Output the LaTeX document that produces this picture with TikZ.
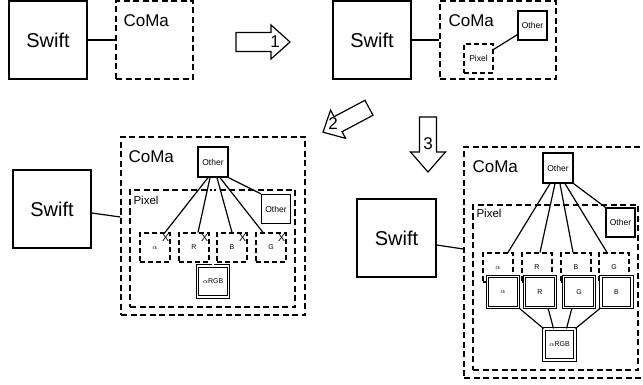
\documentclass[tikz,border=0pt]{standalone}
\usepackage{fontspec}
\setmainfont{Liberation Sans}
\usetikzlibrary{arrows.meta, positioning}

\begin{document}
\begin{tikzpicture}[x=1pt, y=-1pt,
        solidbox/.style={draw, rectangle, line width=1.3pt, inner sep=0pt, fill=white},
        dashbox/.style={draw, rectangle, line width=1.3pt, dash pattern=on 6pt off 3.5pt, inner sep=0pt},
        partbox/.style={draw, rectangle, line width=1.1pt, dash pattern=on 5pt off 3pt, inner sep=0pt, minimum width=30pt, minimum height=29pt, font=\fontsize{7}{8}\selectfont},
        dblbox/.style={draw, rectangle, double, double distance=1.4pt, line width=0.9pt, fill=white, inner sep=0pt, minimum size=31pt, font=\fontsize{7}{8}\selectfont},
        link/.style={line width=1.2pt},
        dbllink/.style={double, double distance=1.2pt, line width=0.8pt},
        bigarrow/.style={draw, line width=1.2pt, fill=white, line join=miter},
        swifttext/.style={font=\fontsize{20}{24}\selectfont},
        othertext/.style={font=\fontsize{8.5}{10}\selectfont},
        comalbl/.style={anchor=base west, inner sep=0pt, font=\fontsize{17}{20}\selectfont},
        pixlbl/.style={anchor=base west, inner sep=0pt, font=\fontsize{11.5}{13}\selectfont},
        xmark/.style={inner sep=0pt, font=\fontsize{10.5}{11}\selectfont},
        numlbl/.style={inner sep=0pt, font=\fontsize{17}{20}\selectfont}]
        \clip (0,0) rectangle (643,385);

        % Step 0
        \node (swift1) [solidbox, minimum size=78pt, swifttext] at (48,40) {Swift};
        \node (coma1) [dashbox, minimum width=77pt, minimum height=78pt] at (154.5,40) {};
        \node (coma1lbl) [comalbl] at ([xshift=8pt, yshift=-26pt]coma1.north west) {CoMa};
        \draw[link] (swift1) -- (coma1);

        % Step 1
        \node (swift2) [solidbox, minimum size=78pt, swifttext] at (372,40) {Swift};
        \node (coma2) [dashbox, minimum width=116pt, minimum height=78pt] at (498,40) {};
        \node (coma2lbl) [comalbl] at ([xshift=9pt, yshift=-26pt]coma2.north west) {CoMa};
        \node (other2) [solidbox, minimum size=29pt, othertext] at (532.5,25.5) {Other};
        \node (pixel2) [partbox, minimum size=29pt, othertext] at (478.5,58.5) {Pixel};
        \draw[link] (swift2) -- (coma2);
        \draw[link] ([yshift=-6pt]pixel2.north east) -- ([yshift=6pt]other2.south west);

        % Step 2
        \node (swift3) [solidbox, minimum size=78pt, swifttext] at (52,209) {Swift};
        \node (coma3) [dashbox, minimum width=184pt, minimum height=178pt] at (213,226) {};
        \node (coma3lbl) [comalbl] at ([xshift=8pt, yshift=-26pt]coma3.north west) {CoMa};
        \node (pixel3) [dashbox, minimum width=165pt, minimum height=117pt] at (212.5,248.5) {};
        \node (pixel3lbl) [pixlbl] at ([xshift=4pt, yshift=-15pt]pixel3.north west) {Pixel};
        \node (other3a) [solidbox, minimum size=30pt, othertext] at (213,162) {Other};
        \node (other3b) [solidbox, minimum size=29pt, othertext] at (276,209) {Other};
        \node (a3) [partbox] at (155,247.5) {$\alpha$};
        \node (r3) [partbox] at (194,247.5) {R};
        \node (b3) [partbox] at (232,247.5) {B};
        \node (g3) [partbox] at (271,247.5) {G};
        \node (argb3) [dblbox] at (213,281.5) {$\alpha$RGB};
        \draw[link] ([yshift=-4pt]swift3.east) -- ([yshift=9pt]coma3.west);
        \draw[link] ([xshift=-5pt]other3a.south) -- ([xshift=10pt]a3.north);
        \draw[link] ([xshift=-3pt]other3a.south) -- ([xshift=4pt]r3.north);
        \draw[link] ([xshift=4pt]other3a.south) -- (b3.north);
        \draw[link] ([xshift=7pt]other3a.south) -- ([xshift=-8pt]g3.north);
        \draw[link] (other3a.south east) -- (other3b.north west);
        \draw[dbllink] (other3a.south) -- (argb3.north);
        \node (xa3) [xmark] at ([xshift=-5pt, yshift=-5pt]a3.north east) {X};
        \node (xr3) [xmark] at ([xshift=-5pt, yshift=-5pt]r3.north east) {X};
        \node (xb3) [xmark] at ([xshift=-5pt, yshift=-5pt]b3.north east) {X};
        \node (xg3) [xmark] at ([xshift=-5pt, yshift=-5pt]g3.north east) {X};

        % Step 3
        \node (swift4) [solidbox, minimum width=79pt, minimum height=78pt, swifttext] at (396.5,238) {Swift};
        \node (coma4) [dashbox, minimum width=191pt, minimum height=231pt] at (559.5,262.5) {};
        \node (coma4lbl) [comalbl] at ([xshift=9pt, yshift=-26pt]coma4.north west) {CoMa};
        \node (pixel4) [dashbox, minimum width=165pt, minimum height=165pt] at (555.5,287.5) {};
        \node (pixel4lbl) [pixlbl] at ([xshift=4pt, yshift=-13pt]pixel4.north west) {Pixel};
        \node (other4a) [solidbox, minimum size=30pt, othertext] at (558,168) {Other};
        \node (other4b) [solidbox, minimum size=29pt, othertext] at (620.5,222.5) {Other};
        \node (a4) [partbox] at (498,267.5) {$\alpha$};
        \node (r4) [partbox] at (537,267.5) {R};
        \node (b4) [partbox] at (576,267.5) {B};
        \node (g4) [partbox] at (614,267.5) {G};
        \draw[link] ([yshift=-7pt]swift4.east) -- ([yshift=13.5pt]coma4.west);
        \draw[link] ([xshift=-8pt]other4a.south) -- ([xshift=10pt]a4.north);
        \draw[link] ([xshift=-3pt]other4a.south) -- ([xshift=3pt]r4.north);
        \draw[link] ([xshift=2pt]other4a.south) -- ([xshift=-3pt]b4.north);
        \draw[link] ([xshift=7pt]other4a.south) -- ([xshift=-7pt]g4.north);
        \draw[link] (other4a.south east) -- (other4b.north west);
        \node (a4d) [dblbox] at (503,292) {$\alpha$};
        \node (r4d) [dblbox] at (540,292) {R};
        \node (g4d) [dblbox] at (579,292) {G};
        \node (b4d) [dblbox] at (616.5,292) {B};
        \node (argb4) [dblbox] at (559.5,344.5) {$\alpha$RGB};
        \draw[link] (a4d.south east) -- (argb4.north west);
        \draw[link] ([xshift=8pt]r4d.south) -- ([xshift=-6pt]argb4.north);
        \draw[link] ([xshift=-7pt]g4d.south) -- ([xshift=7pt]argb4.north);
        \draw[link] (b4d.south west) -- (argb4.north east);

        % Arrows
        \draw[bigarrow, shift={(263,42)}] (-27,-9.5) -- (8,-9.5) -- (8,-17) -- (27,0) -- (8,17) -- (8,9.5) -- (-27,9.5) -- cycle;
        \draw[bigarrow, shift={(346,120)}, rotate=208] (-26,-8.5) -- (9,-8.5) -- (9,-16) -- (26,0) -- (9,16) -- (9,8.5) -- (-26,8.5) -- cycle;
        \draw[bigarrow, shift={(428,144.5)}, rotate=-90] (-27.5,-8.5) -- (7.5,-8.5) -- (7.5,-17.5) -- (27.5,0) -- (7.5,17.5) -- (7.5,8.5) -- (-27.5,8.5) -- cycle;
        \node (num1) [numlbl] at (275,42) {1};
        \node (num2) [numlbl] at (333,124) {2};
        \node (num3) [numlbl] at (428,143.5) {3};
\end{tikzpicture}
\end{document}
